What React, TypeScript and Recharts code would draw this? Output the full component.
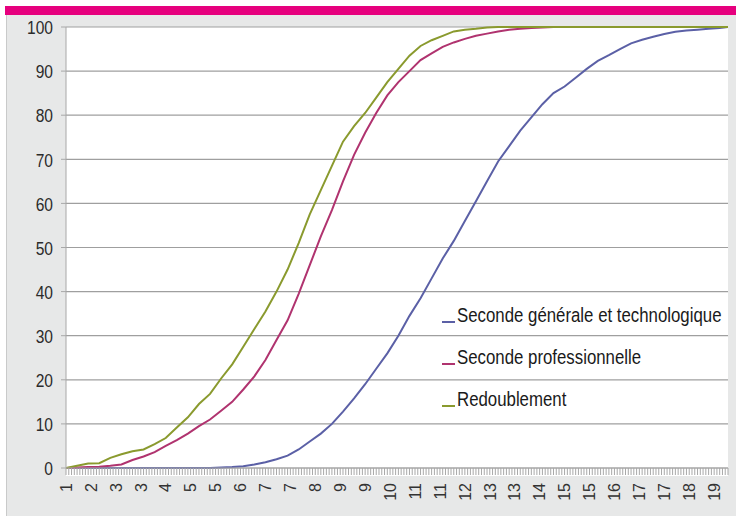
import { LineChart, Line, XAxis, YAxis, CartesianGrid, Legend } from 'recharts'

// note scale (x) and cumulative share of pupils (%)
const notes = [
  1.2, 1.5, 1.8, 2.1, 2.4, 2.7, 3.0, 3.3, 3.6, 3.9, 4.2, 4.5, 4.8, 5.1, 5.4, 5.7, 6.0, 6.3, 6.6, 6.9,
  7.2, 7.5, 7.8, 8.1, 8.4, 8.7, 9.0, 9.3, 9.6, 9.9, 10.2, 10.5, 10.8, 11.1, 11.4, 11.7, 12.0, 12.3, 12.6, 12.9,
  13.2, 13.5, 13.8, 14.1, 14.4, 14.7, 15.0, 15.3, 15.6, 15.9, 16.2, 16.5, 16.8, 17.1, 17.4, 17.7, 18.0, 18.3, 18.6, 18.9,
  19.125,
]

const secondeGT = [
  0, 0, 0, 0, 0, 0, 0, 0, 0, 0, 0, 0, 0, 0, 0.1, 0.2, 0.4, 0.8, 1.3, 2.0,
  2.8, 4.2, 6.0, 7.8, 10.0, 12.8, 15.8, 19.0, 22.5, 26.0, 30.0, 34.5, 38.5, 43, 47.5, 51.5, 56, 60.5, 65, 69.5,
  73, 76.5, 79.5, 82.5, 85, 86.5, 88.5, 90.5, 92.3, 93.6, 95, 96.3, 97.1, 97.8, 98.4, 98.9, 99.2, 99.4, 99.6, 99.8,
  100,
]

const secondePro = [
  0, 0.1, 0.2, 0.3, 0.5, 0.8, 1.8, 2.6, 3.6, 5.0, 6.3, 7.8, 9.5, 11.0, 13.0, 15.0, 17.8, 20.8, 24.5, 29,
  33.5, 39.5, 46, 52.5, 58.5, 65, 71, 76, 80.5, 84.5, 87.5, 90, 92.5, 94, 95.5, 96.5, 97.3, 98, 98.5, 99,
  99.4, 99.6, 99.8, 99.9, 100, 100, 100, 100, 100, 100, 100, 100, 100, 100, 100, 100, 100, 100, 100, 100,
  100,
]

const redoublement = [
  0, 0.5, 1.0, 1.1, 2.3, 3.1, 3.8, 4.2, 5.4, 6.8, 9.2, 11.5, 14.5, 16.8, 20.3, 23.5, 27.5, 31.5, 35.5, 40,
  45, 51, 57.5, 63, 68.5, 74, 77.5, 80.5, 84, 87.5, 90.5, 93.5, 95.7, 97, 98, 99, 99.4, 99.6, 99.9, 100,
  100, 100, 100, 100, 100, 100, 100, 100, 100, 100, 100, 100, 100, 100, 100, 100, 100, 100, 100, 100,
  100,
]

const seriesNames = ['Seconde générale et technologique', 'Seconde professionnelle', 'Redoublement']

const yTicks = [0, 10, 20, 30, 40, 50, 60, 70, 80, 90, 100]
const xTickLabels = [
  '1', '2', '3', '3', '4', '5', '5', '6', '7', '7', '8', '9', '9', '10',
  '11', '11', '12', '13', '13', '14', '15', '15', '16', '17', '17', '18', '19',
]
const xStart = 1.2
const xStep = 0.075
const xTicks = Array.from({ length: 240 }, (_, i) => +(xStart + i * xStep).toFixed(3))

const data = notes.map((x, i) => ({
  x,
  gt: secondeGT[i],
  pro: secondePro[i],
  red: redoublement[i],
}))

const sans = "'Liberation Sans', Arial, sans-serif"

function XTick(props: any) {
  const { x, y, index } = props
  if (index % 9 !== 0) return null
  const label = xTickLabels[index / 9]
  return (
    <text
      x={x}
      y={y}
      dy="0.36em"
      transform={`rotate(-90, ${x}, ${y})`}
      textAnchor="end"
      fontSize={16}
      fontFamily={sans}
      fill="#333"
    >
      {label}
    </text>
  )
}

// narrow look: Liberation Sans squeezed horizontally
function YTick(props: any) {
  const { x, y, payload } = props
  return (
    <g transform={`translate(${x},${y})`}>
      <text
        x={0}
        y={0}
        dy="0.38em"
        textAnchor="end"
        transform="scale(0.82,1)"
        fontSize={19}
        fontFamily={sans}
        fill="#2b2b2b"
      >
        {payload.value}
      </text>
    </g>
  )
}

function LegendBox(props: any) {
  const items = [...(props.payload || [])].sort(
    (a: any, b: any) => seriesNames.indexOf(a.value) - seriesNames.indexOf(b.value)
  )
  return (
    <div style={{ fontFamily: sans }}>
      {items.map((p: any) => (
        <div key={p.value} style={{ height: 42, display: 'flex', alignItems: 'flex-start', whiteSpace: 'nowrap' }}>
          <div style={{ width: 13, height: 1.5, background: p.color, marginTop: 18, marginRight: 2, flex: 'none' }} />
          <span
            style={{
              display: 'inline-block',
              fontSize: 20.5,
              lineHeight: '24px',
              color: '#1a1a1a',
              transform: 'scaleX(0.82)',
              transformOrigin: 'left center',
            }}
          >
            {p.value}
          </span>
        </div>
      ))}
    </div>
  )
}

export default function App() {
  return (
    <div style={{ position: 'absolute', left: 0, top: 0, width: 736, height: 516, background: '#fff', overflow: 'hidden' }}>
      <div style={{ position: 'absolute', left: 5, top: 6, width: 731, height: 9, background: '#e6007e' }} />
      <div
        style={{
          position: 'absolute',
          left: 6,
          top: 15,
          width: 730,
          height: 501,
          background: '#e7e8e8',
          borderLeft: '1px solid #c9caca',
          boxSizing: 'border-box',
        }}
      />
      <div style={{ position: 'absolute', left: 66, top: 27, width: 662, height: 449, background: '#fff' }} />
      <div style={{ position: 'absolute', left: 0, top: 0 }}>
        <LineChart width={736} height={516} data={data} margin={{ top: 27, right: 8, bottom: 8, left: 6 }}>
          <CartesianGrid vertical={false} stroke="#9f9f9f" strokeWidth={1.2} />
          <XAxis
            dataKey="x"
            type="number"
            domain={[1.2, 19.125]}
            ticks={xTicks}
            interval={0}
            height={40}
            tickSize={7}
            tickMargin={8}
            tick={<XTick />}
            stroke="#a8a8a8"
            allowDataOverflow
          />
          <YAxis
            domain={[0, 100]}
            ticks={yTicks}
            interval={0}
            width={60}
            tickSize={5}
            tickMargin={8}
            stroke="#a8a8a8"
            tick={<YTick />}
          />
          <Legend
            layout="vertical"
            align="center"
            verticalAlign="middle"
            wrapperStyle={{ left: 442, top: 303, width: 294 }}
            content={<LegendBox />}
          />
          <Line
            type="linear"
            dataKey="gt"
            name={seriesNames[0]}
            stroke="#5b60a6"
            strokeWidth={2}
            dot={false}
            isAnimationActive={false}
          />
          <Line
            type="linear"
            dataKey="pro"
            name={seriesNames[1]}
            stroke="#b0336f"
            strokeWidth={2}
            dot={false}
            isAnimationActive={false}
          />
          <Line
            type="linear"
            dataKey="red"
            name={seriesNames[2]}
            stroke="#8a9a2e"
            strokeWidth={2}
            dot={false}
            isAnimationActive={false}
          />
        </LineChart>
      </div>
    </div>
  )
}
